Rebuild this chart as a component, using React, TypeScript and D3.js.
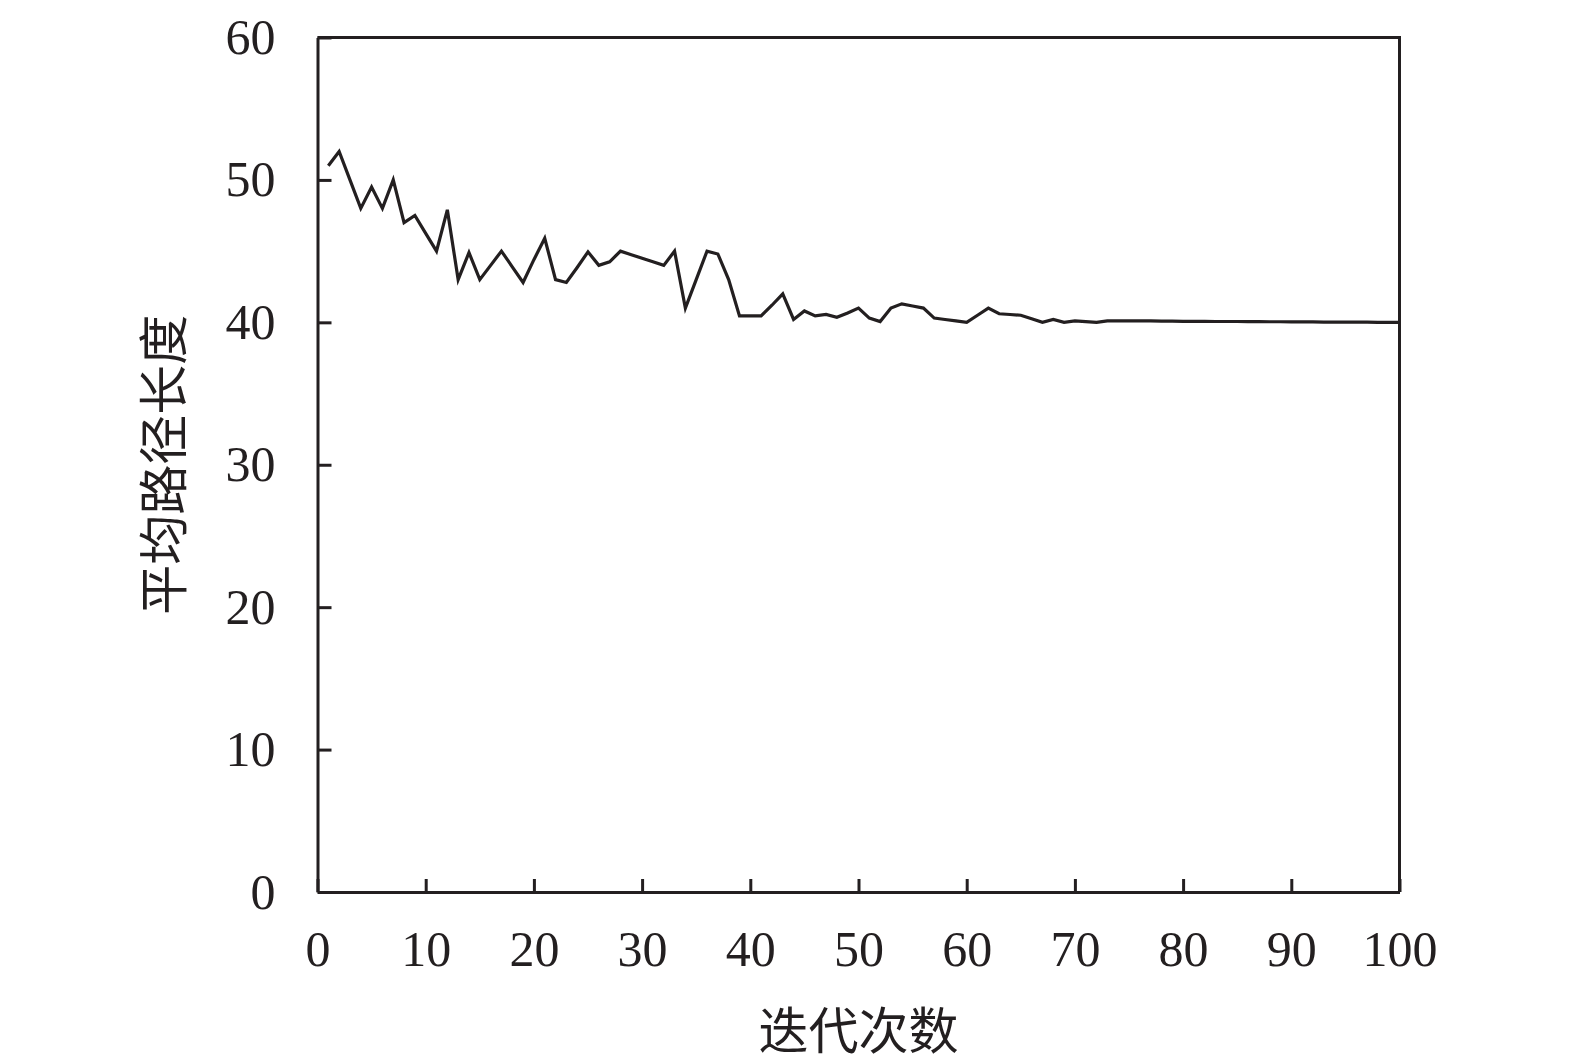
import React, { useEffect, useRef } from "react";
import { axisBottom, axisLeft, line, scaleLinear, select } from "d3";

// iteration number on x, average path length on y
const iterations = Array.from({ length: 100 }, (_, i) => i + 1);
const avgLength = [
  51.0, 52.0, 50.0, 48.0, 49.5, 48.0, 50.0, 47.0, 47.5, 46.25,
  45.0, 47.9, 43.0, 44.9, 43.0, 44.0, 45.0, 43.9, 42.8, 44.4,
  45.9, 43.0, 42.8, 43.85, 44.95, 44.0, 44.25, 45.0, 44.75, 44.5,
  44.25, 44.0, 45.0, 41.0, 43.0, 45.0, 44.8, 43.0, 40.45, 40.45,
  40.45, 41.2, 42.0, 40.2, 40.8, 40.45, 40.55, 40.35, 40.65, 41.0,
  40.3, 40.05, 41.0, 41.3, 41.15, 41.0, 40.3, 40.2, 40.1, 40.0,
  40.5, 41.0, 40.6, 40.55, 40.5, 40.25, 40.0, 40.2, 40.0, 40.1,
  40.05, 40.0, 40.1, 40.1, 40.1, 40.1, 40.1, 40.08, 40.08, 40.07,
  40.07, 40.07, 40.06, 40.06, 40.06, 40.05, 40.05, 40.04, 40.04, 40.03,
  40.03, 40.03, 40.02, 40.02, 40.02, 40.01, 40.01, 40.0, 40.0, 40.0,
];
const xTicks = [0, 10, 20, 30, 40, 50, 60, 70, 80, 90, 100];
const yTicks = [0, 10, 20, 30, 40, 50, 60];
const xTitle = "迭代次数";
const yTitle = "平均路径长度";

const ink = "#231f20";

export default function App() {
  const svgRef = useRef(null);
  const W = 1575;
  const H = 1062;
  const margin = { top: 37.5, right: 175.5, bottom: 170, left: 317.5 };
  const w = W - margin.left - margin.right;
  const h = H - margin.top - margin.bottom;

  useEffect(() => {
    const svg = select(svgRef.current);
    svg.selectAll("*").remove();

    const x = scaleLinear().domain([0, 100]).range([0, w]);
    const y = scaleLinear().domain([0, 60]).range([h, 0]);

    const g = svg
      .append("g")
      .attr("transform", `translate(${margin.left}, ${margin.top})`);

    // frame (top and right)
    g.append("path")
      .attr("d", `M0,0H${w}V${h}`)
      .attr("fill", "none")
      .attr("stroke", ink)
      .attr("stroke-width", 3);

    const xAxis = g
      .append("g")
      .attr("transform", `translate(0, ${h})`)
      .call(
        axisBottom(x)
          .tickValues(xTicks)
          .tickSize(-13)
          .tickPadding(38)
          .tickSizeOuter(0)
      );

    const yAxis = g.append("g").call(
      axisLeft(y)
        .tickValues(yTicks)
        .tickSize(-14)
        .tickPadding(42)
        .tickSizeOuter(0)
    );

    [xAxis, yAxis].forEach((a) => {
      a.select(".domain").attr("stroke", ink).attr("stroke-width", 3);
      a.selectAll(".tick line").attr("stroke", ink).attr("stroke-width", 3);
      a.selectAll(".tick text")
        .attr("fill", ink)
        .attr("font-family", "'Liberation Serif', 'Times New Roman', serif")
        .attr("font-size", 50);
    });
    xAxis.selectAll(".tick text").attr("dy", "0.71em");

    const path = line<number>()
      .x((_, i) => x(iterations[i]))
      .y((d) => y(d));

    g.append("path")
      .datum(avgLength)
      .attr("d", path)
      .attr("fill", "none")
      .attr("stroke", ink)
      .attr("stroke-width", 3.2)
      .attr("stroke-linejoin", "miter");

    const cjk = "'Noto Sans CJK SC', 'Noto Sans CJK JP', sans-serif";

    svg
      .append("text")
      .attr("x", margin.left + w / 2)
      .attr("y", 1049)
      .attr("text-anchor", "middle")
      .attr("font-family", cjk)
      .attr("font-size", 50)
      .attr("fill", ink)
      .text(xTitle);

    svg
      .append("text")
      .attr("transform", `translate(182, ${margin.top + h / 2}) rotate(-90)`)
      .attr("text-anchor", "middle")
      .attr("font-family", cjk)
      .attr("font-size", 50)
      .attr("fill", ink)
      .text(yTitle);
  }, []);

  return (
    <svg
      ref={svgRef}
      width={W}
      height={H}
      style={{ position: "absolute", left: 0, top: 0, background: "#fff" }}
    />
  );
}
